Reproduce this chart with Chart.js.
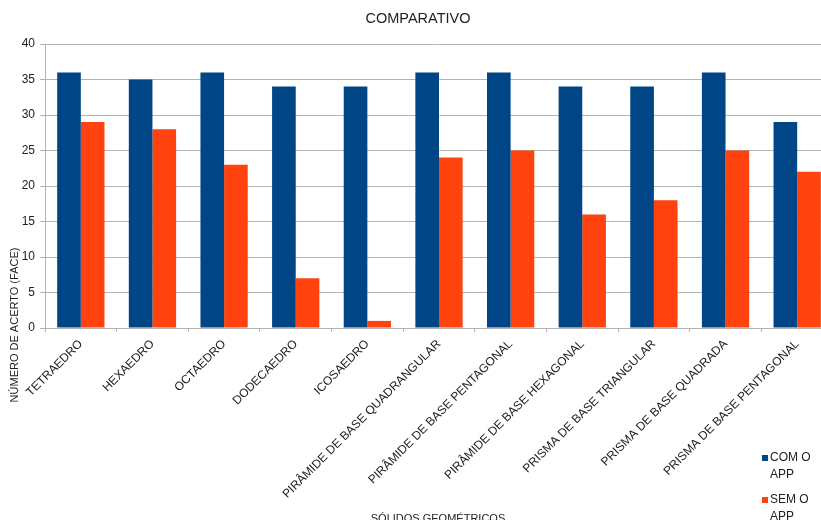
<!DOCTYPE html>
<html><head><meta charset="utf-8">
<script src="https://cdn.jsdelivr.net/npm/chart.js@4/dist/chart.umd.min.js"></script>
<style>
html,body{margin:0;padding:0;overflow:hidden;background:#fff;}
#wrap{position:relative;width:840px;height:530px;}
</style></head>
<body>
<div id="wrap"><canvas id="c"></canvas></div>
<script>
const categories = ["TETRAEDRO","HEXAEDRO","OCTAEDRO","DODECAEDRO","ICOSAEDRO","PIRÂMIDE DE BASE QUADRANGULAR","PIRÂMIDE DE BASE PENTAGONAL","PIRÂMIDE DE BASE HEXAGONAL","PRISMA DE BASE TRIANGULAR","PRISMA DE BASE QUADRADA","PRISMA DE BASE PENTAGONAL"];
const comApp = [36,35,36,34,34,36,36,34,34,36,29];
const semApp = [29,28,23,7,1,24,25,16,18,25,22];
const seriesNames = ["COM O APP","SEM O APP"];
const chartTitle = "COMPARATIVO";
const xTitle = "SÓLIDOS GEOMÉTRICOS";
const yTitle = "NÚMERO DE ACERTO (FACE)";
const colors = ["#004586","#ff420e"];
const FONT = "'Liberation Sans', Arial, sans-serif";

const overlay = {
  id:'overlay',
  afterDraw(chart){
    const ctx = chart.ctx;
    ctx.save();
    ctx.fillStyle = '#222';
    ctx.textAlign = 'center';
    ctx.textBaseline = 'middle';
    ctx.font = "14.5px " + FONT;
    ctx.fillText(chartTitle, 418, 19);
    ctx.font = "11px " + FONT;
    ctx.fillText(xTitle, 438, 519);
    ctx.save();
    ctx.translate(15, 325);
    ctx.rotate(-Math.PI/2);
    ctx.fillText(yTitle, 0, 0);
    ctx.restore();
    // legend
    ctx.textAlign = 'left';
    ctx.font = "12px " + FONT;
    const lx = 762, ys = [458, 500];
    seriesNames.forEach((n, i) => {
      ctx.fillStyle = colors[i];
      ctx.fillRect(lx, ys[i]-3, 6, 6);
      ctx.fillStyle = '#222';
      const parts = n.split(' ');
      ctx.fillText(parts[0] + ' ' + parts[1], lx + 8, ys[i]);
      ctx.fillText(parts[2], lx + 8, ys[i] + 17);
    });
    ctx.restore();
  }
};

new Chart(document.getElementById('c'), {
  type:'bar',
  data:{
    labels: categories,
    datasets:[
      {label: seriesNames[0], data: comApp, backgroundColor: colors[0], barPercentage:1, categoryPercentage:0.66},
      {label: seriesNames[1], data: semApp, backgroundColor: colors[1], barPercentage:1, categoryPercentage:0.66}
    ]
  },
  options:{
    responsive:true, maintainAspectRatio:false, animation:false,
    layout:{padding:{left:0, top:44, right:7, bottom:0}},
    plugins:{legend:{display:false}, title:{display:false}, tooltip:{enabled:false}},
    scales:{
      x:{
        afterFit(s){ s.height = 202; },
        grid:{drawOnChartArea:false, drawTicks:true, tickLength:4, color:'#b3b3b3', offset:true},
        border:{color:'#b3b3b3'},
        ticks:{maxRotation:45, minRotation:45, autoSkip:false, color:'#222', font:{family:FONT, size:12}, padding:5}
      },
      y:{
        min:0, max:40,
        afterFit(s){ s.width = 45; },
        grid:{color:'#b3b3b3', tickLength:5},
        border:{color:'#b3b3b3'},
        ticks:{stepSize:5, color:'#222', font:{family:FONT, size:12}, padding:5}
      }
    }
  },
  plugins:[overlay]
});
</script>
</body></html>
